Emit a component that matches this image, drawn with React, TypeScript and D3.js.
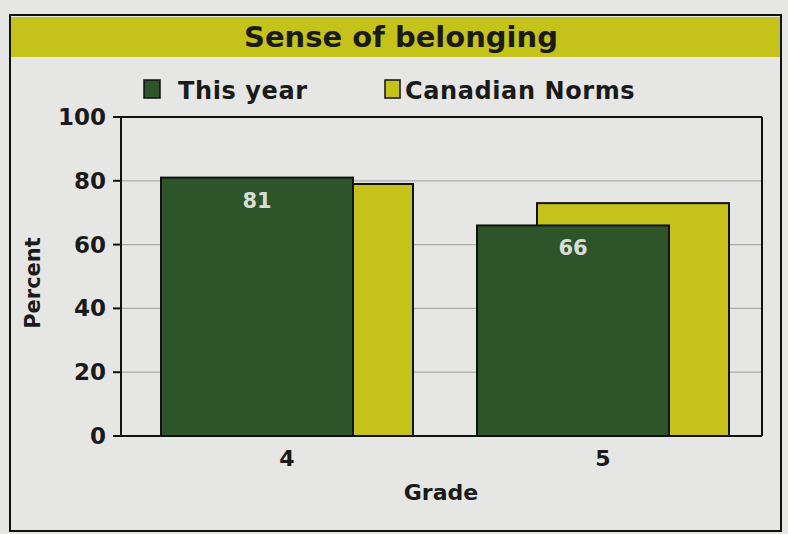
import React from "react";
import { scaleBand, scaleLinear } from "d3";

const grades = ["4", "5"];
const thisYear = [81, 66];
const canadianNorms = [79, 73];
const yTicks = [0, 20, 40, 60, 80, 100];

const W = 788;
const H = 534;
const FONT = "'DejaVu Sans', Verdana, sans-serif";
const GREEN = "#2e5429";
const YELLOW = "#c6c21c";
const BG = "#e6e7e4";
const INK = "#1a1a1a";

export default function App() {
  const plot = { left: 121, right: 762, top: 117, bottom: 436 };

  const x = scaleBand<string>().domain(grades).range([129, 761]).padding(0);
  const y = scaleLinear().domain([0, 100]).range([plot.bottom, plot.top]);

  const barW = 192;
  const offset = 60;
  const groupW = barW + offset;

  return (
    <svg
      width={W}
      height={H}
      style={{ position: "absolute", left: 0, top: 0, background: BG }}
    >
      {/* outer frame */}
      <rect x={10} y={15} width={771} height={516} fill={BG} stroke="#111" strokeWidth={2} />
      {/* title band */}
      <rect x={11} y={17} width={769} height={40} fill={YELLOW} />
      <text x={401} y={47} textAnchor="middle" fontFamily={FONT} fontSize={29} fontWeight="bold" fill={INK}>
        Sense of belonging
      </text>

      {/* legend */}
      <rect x={144} y={80} width={16} height={18} fill={GREEN} stroke="#111" strokeWidth={1.5} />
      <text x={178} y={99} fontFamily={FONT} fontSize={24} fontWeight="bold" letterSpacing={0.6} fill={INK}>
        This year
      </text>
      <rect x={385} y={80} width={15} height={18} fill={YELLOW} stroke="#111" strokeWidth={1.5} />
      <text x={405} y={99} fontFamily={FONT} fontSize={24} fontWeight="bold" letterSpacing={0.6} fill={INK}>
        Canadian Norms
      </text>

      {/* gridlines */}
      {yTicks.map((t) => (
        <line key={`g-${t}`} x1={plot.left} x2={plot.right} y1={y(t)} y2={y(t)} stroke="#abaca9" strokeWidth={1.2} />
      ))}
      {/* plot frame */}
      <line x1={plot.left} x2={plot.right} y1={plot.top} y2={plot.top} stroke="#111" strokeWidth={2} />
      <line x1={plot.right} x2={plot.right} y1={plot.top} y2={plot.bottom} stroke="#111" strokeWidth={2} />

      {/* bars */}
      {grades.map((g, i) => {
        const x0 = (x(g) as number) + x.bandwidth() / 2 - groupW / 2;
        return (
          <g key={`bar-${g}`}>
            <rect
              x={x0 + offset}
              y={y(canadianNorms[i])}
              width={barW}
              height={plot.bottom - y(canadianNorms[i])}
              fill={YELLOW}
              stroke="#111"
              strokeWidth={2}
            />
            <rect
              x={x0}
              y={y(thisYear[i])}
              width={barW}
              height={plot.bottom - y(thisYear[i])}
              fill={GREEN}
              stroke="#111"
              strokeWidth={2}
            />
            <text
              x={x0 + barW / 2}
              y={y(thisYear[i]) + 30}
              textAnchor="middle"
              fontFamily={FONT}
              fontSize={21}
              fontWeight="bold"
              fill="#d9ddd6"
            >
              {thisYear[i]}
            </text>
          </g>
        );
      })}

      {/* y axis */}
      <line x1={plot.left} x2={plot.left} y1={plot.top} y2={plot.bottom} stroke="#111" strokeWidth={2} />
      <line x1={113} x2={plot.right} y1={plot.bottom} y2={plot.bottom} stroke="#111" strokeWidth={2} />
      {yTicks.map((t) => (
        <g key={`t-${t}`}>
          <line x1={113} x2={plot.left} y1={y(t)} y2={y(t)} stroke="#111" strokeWidth={2} />
          <text x={106} y={y(t) + 8} textAnchor="end" fontFamily={FONT} fontSize={23} fontWeight="bold" fill={INK}>
            {t}
          </text>
        </g>
      ))}
      <text
        transform="translate(40,283) rotate(-90)"
        textAnchor="middle"
        fontFamily={FONT}
        fontSize={21}
        fontWeight="bold"
        fill={INK}
      >
        Percent
      </text>

      {/* x axis labels */}
      {grades.map((g) => (
        <text
          key={`x-${g}`}
          x={(x(g) as number) + x.bandwidth() / 2}
          y={466}
          textAnchor="middle"
          fontFamily={FONT}
          fontSize={22}
          fontWeight="bold"
          fill={INK}
        >
          {g}
        </text>
      ))}
      <text x={441} y={500} textAnchor="middle" fontFamily={FONT} fontSize={22} fontWeight="bold" fill={INK}>
        Grade
      </text>
    </svg>
  );
}
